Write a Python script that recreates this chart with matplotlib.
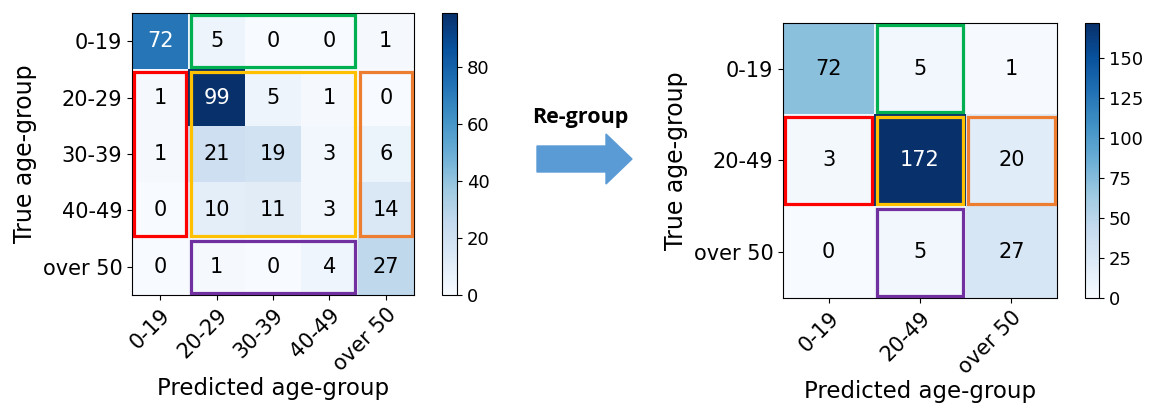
import matplotlib
matplotlib.use("Agg")
import matplotlib.pyplot as plt
import numpy as np
from matplotlib.patches import Rectangle, FancyArrow

# data
labels_fine = ["0-19", "20-29", "30-39", "40-49", "over 50"]
cm_fine = [
    [72, 5, 0, 0, 1],
    [1, 99, 5, 1, 0],
    [1, 21, 19, 3, 6],
    [0, 10, 11, 3, 14],
    [0, 1, 0, 4, 27],
]
labels_coarse = ["0-19", "20-49", "over 50"]
cm_coarse = [
    [72, 5, 1],
    [3, 172, 20],
    [0, 5, 27],
]

# boxes: (col0, col1, row0, row1, colour)
boxes_fine = [
    (1, 3, 0, 0, "#00b050"),
    (0, 0, 1, 3, "#ff0000"),
    (1, 3, 1, 3, "#ffc000"),
    (4, 4, 1, 3, "#ed7d31"),
    (1, 3, 4, 4, "#7030a0"),
]
boxes_coarse = [
    (1, 1, 0, 0, "#00b050"),
    (0, 0, 1, 1, "#ff0000"),
    (1, 1, 1, 1, "#ffc000"),
    (2, 2, 1, 1, "#ed7d31"),
    (1, 1, 2, 2, "#7030a0"),
]

W, H = 1160, 407


def px_rect(x0, y0, x1, y1):
    # pixel box (top-left origin) -> figure fraction
    return [x0 / W, 1 - y1 / H, (x1 - x0) / W, (y1 - y0) / H]


def draw_cm(ax, cax, cm, labels, boxes, cticks, inset=0.04):
    cm = np.array(cm)
    im = ax.imshow(cm, cmap="Blues", aspect="auto", vmin=0, vmax=cm.max())
    thresh = cm.max() / 2
    for i in range(cm.shape[0]):
        for j in range(cm.shape[1]):
            ax.text(j, i, str(cm[i, j]), ha="center", va="center", fontsize=15,
                    color="white" if cm[i, j] > thresh else "black")
    n = len(labels)
    ax.set_xticks(range(n))
    ax.set_yticks(range(n))
    ax.set_xticklabels(labels, rotation=45, ha="right", rotation_mode="anchor", fontsize=15)
    ax.set_yticklabels(labels, fontsize=15)
    ax.set_xlabel("Predicted age-group", fontsize=16.5, labelpad=1)
    ax.set_ylabel("True age-group", fontsize=17)
    for c0, c1, r0, r1, col in boxes:
        ax.add_patch(Rectangle((c0 - 0.5 + inset, r0 - 0.5 + inset),
                               c1 - c0 + 1 - 2 * inset, r1 - r0 + 1 - 2 * inset,
                               fill=False, edgecolor=col, linewidth=2.3, zorder=5,
                               clip_on=False))
    cb = plt.colorbar(im, cax=cax)
    cb.set_ticks(cticks)
    cb.ax.tick_params(labelsize=13)


fig = plt.figure(figsize=(W / 100, H / 100), dpi=100)

ax1 = fig.add_axes(px_rect(132, 13, 414, 295))
cax1 = fig.add_axes(px_rect(442, 13, 457, 295))
draw_cm(ax1, cax1, cm_fine, labels_fine, boxes_fine, [0, 20, 40, 60, 80])

ax2 = fig.add_axes(px_rect(783, 23, 1057, 298))
cax2 = fig.add_axes(px_rect(1085, 23, 1099, 298))
draw_cm(ax2, cax2, cm_coarse, labels_coarse, boxes_coarse, [0, 25, 50, 75, 100, 125, 150], inset=0.025)

# arrow in the middle
fig.patches.append(FancyArrow(537 / W, 1 - 159 / H, 95 / W, 0, width=26 / H,
                              head_width=50 / H, head_length=26 / W,
                              length_includes_head=True, color="#5b9bd5",
                              transform=fig.transFigure, figure=fig))
fig.text(580 / W, 1 - 118 / H, "Re-group", ha="center", va="center",
         fontsize=15.5, fontweight="bold", family="Open Sans")

fig.savefig("out.png", dpi=100)
